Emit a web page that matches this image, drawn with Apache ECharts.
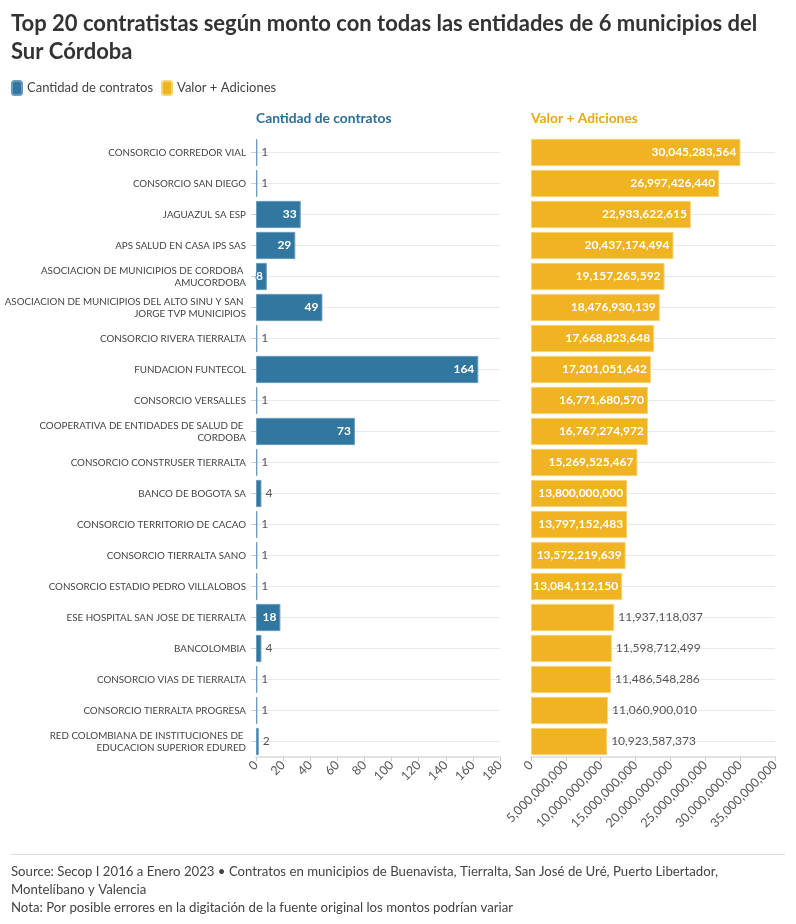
<!DOCTYPE html>
<html lang="es">
<head>
    <meta charset="UTF-8">
    <title>Top 20 contratistas</title>
    <script src="https://cdn.jsdelivr.net/npm/echarts@6/dist/echarts.min.js"></script>
    <style>
        body { margin: 0; background: #fff; }
    </style>
</head>
<body>
    <div id="main" style="width: 796px;height:924px;"></div>
    <script type="text/javascript">
        // data
        const contratistas = [
            'CONSORCIO CORREDOR VIAL', 'CONSORCIO SAN DIEGO', 'JAGUAZUL SA ESP', 'APS SALUD EN CASA IPS SAS',
            'ASOCIACION DE MUNICIPIOS DE CORDOBA AMUCORDOBA',
            'ASOCIACION DE MUNICIPIOS DEL ALTO SINU Y SAN JORGE TVP MUNICIPIOS',
            'CONSORCIO RIVERA TIERRALTA', 'FUNDACION FUNTECOL', 'CONSORCIO VERSALLES',
            'COOPERATIVA DE ENTIDADES DE SALUD DE CORDOBA', 'CONSORCIO CONSTRUSER TIERRALTA',
            'BANCO DE BOGOTA SA', 'CONSORCIO TERRITORIO DE CACAO', 'CONSORCIO TIERRALTA SANO',
            'CONSORCIO ESTADIO PEDRO VILLALOBOS', 'ESE HOSPITAL SAN JOSE DE TIERRALTA', 'BANCOLOMBIA',
            'CONSORCIO VIAS DE TIERRALTA', 'CONSORCIO TIERRALTA PROGRESA',
            'RED COLOMBIANA DE INSTITUCIONES DE EDUCACION SUPERIOR EDURED'
        ];
        const cantidad = [1, 1, 33, 29, 8, 49, 1, 164, 1, 73, 1, 4, 1, 1, 1, 18, 4, 1, 1, 2];
        const valor = [
            30045283564, 26997426440, 22933622615, 20437174494, 19157265592, 18476930139,
            17668823648, 17201051642, 16771680570, 16767274972, 15269525467, 13800000000,
            13797152483, 13572219639, 13084112150, 11937118037, 11598712499, 11486548286,
            11060900010, 10923587373
        ];

        const FONT = 'Lato';
        const BLUE = '#32779f';
        const YELLOW = '#f0b321';
        const fmt = v => Number(v).toLocaleString('en-US');

        // label inside the bar when it is wide enough, outside otherwise
        function withLabels(values, limit, color) {
            return values.map(v => ({
                value: v,
                label: v >= limit
                    ? { position: 'insideRight', color: '#fff', fontWeight: 'bold', textBorderColor: color, textBorderWidth: 2 }
                    : { position: 'right', color: '#555', fontWeight: 'normal' }
            }));
        }

        const myChart = echarts.init(document.getElementById('main'));

        const catAxis = {
            type: 'category',
            inverse: true,
            axisLine: { show: false },
            axisTick: { show: false },
            splitLine: { show: true, alignWithLabel: true, lineStyle: { color: '#e9e9e9' } }
        };
        const valAxis = {
            type: 'value',
            min: 0,
            splitLine: { show: false },
            axisLine: { show: true, lineStyle: { color: '#e3e3e3', width: 2 } },
            axisTick: { show: true, length: 4, lineStyle: { color: '#cfcfcf' } },
            axisLabel: { rotate: 45, color: '#555', fontSize: 12.5, fontFamily: FONT, margin: 6 }
        };

        const options = {
            textStyle: { fontFamily: FONT },
            title: {
                text: 'Top 20 contratistas según monto con todas las entidades de 6 municipios del\nSur Córdoba',
                left: 11, top: 10, padding: 0,
                textStyle: { fontSize: 22, fontWeight: 'bold', color: '#333', lineHeight: 28, fontFamily: FONT }
            },
            legend: {
                left: 11, top: 80, padding: 0,
                icon: 'roundRect',
                itemWidth: 10, itemHeight: 14, itemGap: 8,
                textStyle: { fontSize: 13, color: '#444', fontFamily: FONT },
                data: ['Cantidad de contratos', 'Valor + Adiciones']
            },
            grid: [
                { left: 256, width: 244, top: 137, height: 620, outerBoundsMode: 'none' },
                { left: 531, width: 244, top: 137, height: 620, outerBoundsMode: 'none' }
            ],
            yAxis: [
                Object.assign({}, catAxis, {
                    gridIndex: 0, data: contratistas,
                    axisTick: { show: true, alignWithLabel: true, length: 5, lineStyle: { color: '#ccc' } },
                    axisLabel: {
                        color: '#444', fontSize: 9.8, fontFamily: FONT, margin: 10,
                        width: 244, overflow: 'break', lineHeight: 12, align: 'right'
                    }
                }),
                Object.assign({}, catAxis, { gridIndex: 1, data: contratistas, axisLabel: { show: false } })
            ],
            xAxis: [
                Object.assign({}, valAxis, { gridIndex: 0, max: 180, interval: 20 }),
                Object.assign({}, valAxis, {
                    gridIndex: 1, max: 35000000000, interval: 5000000000,
                    axisLabel: Object.assign({}, valAxis.axisLabel, { formatter: fmt })
                })
            ],
            graphic: [
                { type: 'text', left: 256, top: 112, style: { text: 'Cantidad de contratos', fill: '#2a6f99', font: 'bold 13.8px ' + FONT } },
                { type: 'text', left: 531, top: 112, style: { text: 'Valor + Adiciones', fill: '#e8a90e', font: 'bold 13.8px ' + FONT } },
                { type: 'rect', left: 11, top: 854, shape: { width: 774, height: 1 }, style: { fill: '#dcdcdc' } },
                {
                    type: 'text', left: 11, top: 863,
                    style: {
                        text: 'Source: Secop I 2016 a Enero 2023 • Contratos en municipios de Buenavista, Tierralta, San José de Uré, Puerto Libertador,\nMontelíbano y Valencia\nNota: Por posible errores en la digitación de la fuente original los montos podrían variar',
                        fill: '#444', font: '13.2px ' + FONT, lineHeight: 18
                    }
                }
            ],
            series: [
                {
                    name: 'Cantidad de contratos',
                    type: 'bar',
                    xAxisIndex: 0, yAxisIndex: 0,
                    barCategoryGap: '12%',
                    itemStyle: { color: BLUE, borderColor: '#6a9dbd', borderWidth: 1 },
                    label: { show: true, fontSize: 12, fontFamily: FONT, distance: 4 },
                    data: withLabels(cantidad, 8, BLUE)
                },
                {
                    name: 'Valor + Adiciones',
                    type: 'bar',
                    xAxisIndex: 1, yAxisIndex: 1,
                    barCategoryGap: '12%',
                    itemStyle: { color: YELLOW, borderColor: '#f6d27a', borderWidth: 1 },
                    label: { show: true, fontSize: 12, fontFamily: FONT, distance: 4, formatter: p => fmt(p.value) },
                    data: withLabels(valor, 13000000000, YELLOW)
                }
            ]
        };

        myChart.setOption(options);
    </script>
</body>
</html>
